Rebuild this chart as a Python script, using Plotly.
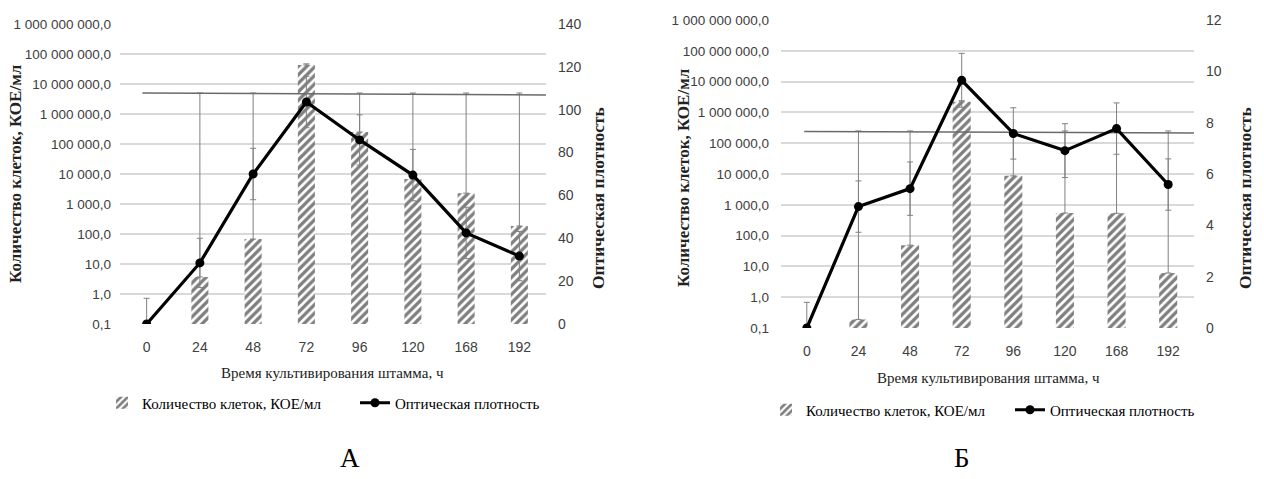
import plotly.graph_objects as go

# ---------------- data ----------------
hours = ["0", "24", "48", "72", "96", "120", "168", "192"]

# Panel A
cells_a = [None, 3.7, 68, 4.3e7, 2.5e5, 6800, 2300, 185]          # КОЕ/мл (left, log)
cells_a_top = [None, 5.0e6, 5.0e6, 4.7e7, 5.0e6, 5.0e6, 5.0e6, 5.0e6]  # upper error ends
od_a = [0, 28.5, 70, 103.6, 85.9, 69.5, 42.5, 31.7]                 # optical density (right)
od_a_err = [12, 11.5, 12, 12, 11.7, 12, 12, 11.5]
ref_a_x = [-0.08, 7.5]
ref_a_y = [107.8, 106.9]

# Panel B
cells_b = [None, 0.19, 49, 2.2e6, 8700, 540, 530, 6.1]
cells_b_top = [None, 2.5e5, 2.5e5, 2.4e6, 2.5e5, 2.5e5, 2.5e5, 2.5e5]
od_b = [0, 4.73, 5.43, 9.65, 7.58, 6.91, 7.77, 5.59]
od_b_err = [1.0, 1.0, 1.04, 1.05, 1.0, 1.05, 1.0, 1.0]
ref_b_x = [-0.05, 7.5]
ref_b_y = [7.66, 7.6]

log_ticks = [0.1, 1, 10, 100, 1e3, 1e4, 1e5, 1e6, 1e7, 1e8, 1e9]
log_ticktext = [f"{v:,.1f}".replace(",", " ").replace(".", ",") for v in log_ticks]

SERIF = "Liberation Serif"
SANS = "Liberation Sans Narrow, Liberation Sans, sans-serif"
GRID = "#d9d9d9"
ERR = "#808080"
TICKC = "#404040"

xpos = list(range(len(hours)))


def plus_err(vals, tops):
    return [0 if v is None else t - v for v, t in zip(vals, tops)]


fig = go.Figure()


def add_panel(cells, tops, od, od_err, rx, ry, xa, ya_left, ya_right, legend, barw):
    fig.add_trace(go.Bar(
        x=xpos, y=cells, width=barw,
        name="Количество клеток, КОЕ/мл",
        marker=dict(color="white", line=dict(width=0),
                    pattern=dict(shape="/", fgcolor="black", bgcolor="white",
                                 size=6, solidity=0.55)),
        error_y=dict(type="data", symmetric=False, array=plus_err(cells, tops),
                     arrayminus=[0] * len(cells), color=ERR, thickness=1, width=3),
        xaxis=xa, yaxis=ya_left, legend=legend,
    ))
    fig.add_trace(go.Scatter(
        x=rx, y=ry, mode="lines", line=dict(color="#6a6a6a", width=1.5),
        showlegend=False, hoverinfo="skip", xaxis=xa, yaxis=ya_right,
    ))
    fig.add_trace(go.Scatter(
        x=xpos, y=od, mode="lines+markers",
        name="Оптическая плотность",
        line=dict(color="black", width=3.2),
        marker=dict(color="black", size=9, symbol="circle"),
        error_y=dict(type="data", symmetric=False, array=od_err,
                     arrayminus=[0] + od_err[1:], color=ERR, thickness=1, width=3),
        xaxis=xa, yaxis=ya_right, legend=legend,
    ))


add_panel(cells_a, cells_a_top, od_a, od_a_err, ref_a_x, ref_a_y, "x", "y", "y2", "legend", 0.32)
add_panel(cells_b, cells_b_top, od_b, od_b_err, ref_b_x, ref_b_y, "x2", "y3", "y4", "legend2", 0.35)

W, H = 1264, 479


def px(xp):
    return xp / W


def py(yp):
    return (H - yp) / H


xcommon = dict(tickmode="array", tickvals=xpos, ticktext=hours, range=[-0.5, 7.5],
               showgrid=False, zeroline=False, showline=False, ticks="",
               automargin=False, ticklabelstandoff=13,
               tickfont=dict(family=SANS, size=14, color=TICKC))
ylog = dict(type="log", range=[-1, 9], tickmode="array", tickvals=log_ticks,
            ticktext=log_ticktext, showgrid=True, gridcolor=GRID, gridwidth=1.5,
            zeroline=False, showline=False, ticks="", automargin=False,
            tickfont=dict(family=SANS, size=13.5, color=TICKC))
yright = dict(showgrid=False, zeroline=False, showline=False, ticks="",
              automargin=False, tickfont=dict(family=SANS, size=14, color=TICKC))

fig.update_layout(
    width=W, height=H, autosize=False,
    margin=dict(l=0, r=0, t=0, b=0, autoexpand=False),
    paper_bgcolor="white", plot_bgcolor="white",
    barmode="overlay",
    xaxis=dict(domain=[px(120), px(546)], anchor="y", **xcommon),
    yaxis=dict(domain=[py(324), py(24)], anchor="x", ticklabelstandoff=8, **ylog),
    yaxis2=dict(overlaying="y", side="right", anchor="x", range=[0, 140], dtick=20,
                ticklabelstandoff=11, **yright),
    xaxis2=dict(domain=[px(781), px(1194)], anchor="y3", **xcommon),
    yaxis3=dict(domain=[py(328), py(20)], anchor="x2", ticklabelstandoff=11, **ylog),
    yaxis4=dict(overlaying="y3", side="right", anchor="x2", range=[0, 12], dtick=2,
                ticklabelstandoff=11, **yright),
    legend=dict(orientation="h", x=px(102), y=py(403), xanchor="left", yanchor="middle",
                font=dict(family=SERIF, size=15, color="black"), itemwidth=30,
                entrywidth=208, bgcolor="rgba(0,0,0,0)"),
    legend2=dict(orientation="h", x=px(766), y=py(410), xanchor="left", yanchor="middle",
                 font=dict(family=SERIF, size=15, color="black"), itemwidth=30,
                 entrywidth=199, bgcolor="rgba(0,0,0,0)"),
    showlegend=True,
)

annotations = [
    # panel A
    dict(text="Количество клеток, КОЕ/мл", x=px(15), y=py(174), textangle=-90,
         font=dict(family=SERIF, size=17, color="#222"), bold=True),
    dict(text="Оптическая плотность", x=px(598), y=py(198), textangle=-90,
         font=dict(family=SERIF, size=17.5, color="#222"), bold=True),
    dict(text="Время культивирования штамма, ч", x=px(332), y=py(373),
         font=dict(family=SERIF, size=15, color="#222")),
    dict(text="А", x=px(350), y=py(458), font=dict(family=SERIF, size=27, color="black")),
    # panel B
    dict(text="Количество клеток, КОЕ/мл", x=px(683), y=py(178), textangle=-90,
         font=dict(family=SERIF, size=17, color="#222"), bold=True),
    dict(text="Оптическая плотность", x=px(1245), y=py(198), textangle=-90,
         font=dict(family=SERIF, size=17.5, color="#222"), bold=True),
    dict(text="Время культивирования штамма, ч", x=px(989), y=py(378),
         font=dict(family=SERIF, size=15, color="#222")),
    dict(text="Б", x=px(962), y=py(458), font=dict(family=SERIF, size=27, color="black")),
]
for a in annotations:
    bold = a.pop("bold", False)
    if bold:
        a["text"] = "<b>" + a["text"] + "</b>"
    fig.add_annotation(xref="paper", yref="paper", showarrow=False,
                       xanchor="center", yanchor="middle", **a)

fig.write_html("out.html", config={"displayModeBar": False},
               post_script="document.body.style.margin='0';document.body.style.overflow='hidden';")
